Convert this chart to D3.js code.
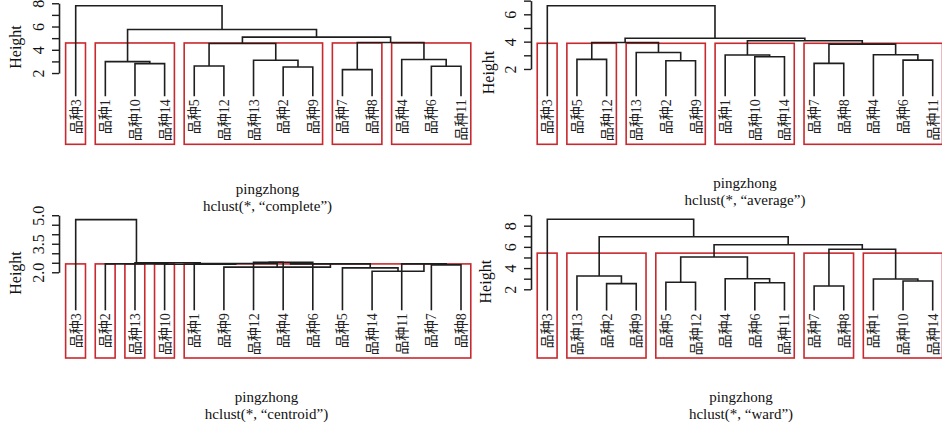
<!DOCTYPE html>
<html>
<head>
<meta charset="utf-8">
<script src="https://cdn.jsdelivr.net/npm/d3@7"></script>
<style>
    body { margin: 0; background: #fff; }
    svg { display: block; }
    text { font-family: "Liberation Serif", "Times New Roman", serif; fill: #111; }
    .leaf { font-family: "Liberation Serif", "Noto Sans CJK SC", serif; font-size: 14px; fill: #222; }
</style>
</head>
<body>
<div id="chart"></div>
<script>
// leaf labels, hclust leaf k = leafNames[k - 1]
const leafNames = ["品种1", "品种2", "品种3", "品种4", "品种5", "品种6", "品种7",
    "品种8", "品种9", "品种10", "品种11", "品种12", "品种13", "品种14"];

// merge tables like R's hclust: negative = leaf, positive = earlier merge (1-based)
const completeMerge = [[-7, -8], [-2, -9], [-6, -11], [-5, -12], [-10, -14], [-1, 5], [-13, 2],
    [-4, 3], [4, 7], [1, 8], [9, 10], [6, 11], [-3, 12]];
const completeHeight = [2.29, 2.52, 2.58, 2.61, 2.81, 2.98, 3.10, 3.16, 4.54, 4.63, 5.09, 5.75, 7.79];

const averageMerge = [[-7, -8], [-2, -9], [-6, -11], [-5, -12], [-10, -14], [-1, 5], [-4, 3],
    [-13, 2], [1, 7], [4, 8], [6, 9], [10, 11], [-3, 12]];
const averageHeight = [2.41, 2.60, 2.65, 2.70, 2.89, 3.02, 3.04, 3.21, 3.82, 3.94, 4.06, 4.25, 6.63];

const centroidMerge = [[-7, -8], [-11, 1], [-14, 2], [-5, 3], [-12, -4], [5, -6], [6, 4],
    [-9, 7], [-1, 8], [-10, 9], [-13, 10], [-2, 11], [-3, 12]];
const centroidHeight = [2.39, 2.44, 2.05, 2.23, 2.53, 2.53, 2.44, 2.27, 2.46, 2.42, 2.50, 2.44, 4.77];

const wardMerge = [[-7, -8], [-2, -9], [-6, -11], [-5, -12], [-10, -14], [-1, 5], [-4, 3],
    [-13, 2], [4, 7], [1, 6], [9, 10], [8, 11], [-3, 12]];
const wardHeight = [2.31, 2.53, 2.62, 2.66, 2.78, 2.97, 3.00, 3.25, 5.05, 5.77, 6.20, 6.96, 8.60];

// y axis ticks and the ones that get a label
const completeTicks = [2, 3, 4, 5, 6, 7, 8];
const completeLabels = [2, 4, 6, 8];
const averageTicks = [2, 3, 4, 5, 6, 7];
const averageLabels = [2, 4, 6];
const centroidTicks = [2, 2.5, 3, 3.5, 4, 4.5, 5];
const centroidLabels = [2, 3.5, 5];
const wardTicks = [2, 3, 4, 5, 6, 7, 8, 9];
const wardLabels = [2, 4, 6, 8];

const k = 5; // rect.hclust(k = 5)

const width = 942;
const height = 426;

const svg = d3.select("#chart")
    .append("svg")
    .attr("width", width)
    .attr("height", height);

const panels = [
    { method: "complete", merge: completeMerge, h: completeHeight, ticks: completeTicks, labels: completeLabels, fmt: d3.format("d"),
      x0: 75.7, x1: 461, yTop: 5.7, yZero: 96.3, bottom: 144.3, axisX: 59, ylab: [21, 47], title: [267.5, 194, 211] },
    { method: "average", merge: averageMerge, h: averageHeight, ticks: averageTicks, labels: averageLabels, fmt: d3.format("d"),
      x0: 547.3, x1: 932.7, yTop: 5.7, yZero: 96.3, bottom: 144.3, axisX: 531, ylab: [494, 72.5], title: [745, 188, 205] },
    { method: "centroid", merge: centroidMerge, h: centroidHeight, ticks: centroidTicks, labels: centroidLabels, fmt: d3.format(".1f"),
      x0: 75.7, x1: 461, yTop: 219.6, yZero: 310.3, bottom: 358, axisX: 59, ylab: [21, 273], title: [266.5, 402, 419] },
    { method: "ward", merge: wardMerge, h: wardHeight, ticks: wardTicks, labels: wardLabels, fmt: d3.format("d"),
      x0: 547.3, x1: 932.7, yTop: 219.3, yZero: 310.5, bottom: 358, axisX: 531, ylab: [491, 281.7], title: [741, 402, 419] }
];

panels.forEach(drawPanel);

function drawPanel(p) {
    const n = p.merge.length;
    const g = svg.append("g");

    // leaf order from the last merge down
    function members(j) {
        if (j < 0) return [-j];
        const m = p.merge[j - 1];
        return members(m[0]).concat(members(m[1]));
    }
    const order = members(n);
    const rank = new Map(order.map((leaf, i) => [leaf, i]));

    const x = d3.scaleLinear().domain([0, order.length - 1]).range([p.x0, p.x1]);
    const y = d3.scaleLinear().domain([0, d3.max(p.h)]).range([p.yZero, p.yTop]);

    // node position (in leaf units) and height
    const pos = j => j < 0 ? rank.get(-j) : (pos(p.merge[j - 1][0]) + pos(p.merge[j - 1][1])) / 2;
    const hgt = j => j < 0 ? 0 : p.h[j - 1];

    // red boxes for k clusters
    let clusters = [n];
    while (clusters.length < k) {
        const top = d3.max(clusters);
        clusters = clusters.filter(c => c !== top).concat(p.merge[top - 1]);
    }
    const cutH = (p.h[n - k] + p.h[n - k + 1]) / 2;
    const boxes = clusters.map(c => {
        const idx = members(c).map(l => rank.get(l));
        return { lo: d3.min(idx), hi: d3.max(idx) };
    });

    g.selectAll(".box")
        .data(boxes)
        .enter()
        .append("rect")
        .attr("class", "box")
        .attr("x", d => x(d.lo - 0.34))
        .attr("width", d => x(d.hi + 0.33) - x(d.lo - 0.34))
        .attr("y", y(cutH))
        .attr("height", p.bottom - y(cutH))
        .attr("fill", "none")
        .attr("stroke", "#c8282e")
        .attr("stroke-width", 1.6);

    // dendrogram segments
    g.selectAll(".link")
        .data(d3.range(1, n + 1))
        .enter()
        .append("path")
        .attr("class", "link")
        .attr("fill", "none")
        .attr("stroke", "#1e1e1e")
        .attr("stroke-width", 1.6)
        .attr("d", j => {
            const [a, b] = p.merge[j - 1];
            return `M${x(pos(a))},${y(hgt(a))}V${y(p.h[j - 1])}H${x(pos(b))}V${y(hgt(b))}`;
        });

    // leaf labels
    g.selectAll(".leaf")
        .data(order)
        .enter()
        .append("text")
        .attr("class", "leaf")
        .attr("transform", d => `translate(${x(rank.get(d)) + 5},${p.yZero + 3}) rotate(-90)`)
        .attr("text-anchor", "end")
        .text(d => leafNames[d - 1]);

    // y axis
    const axisScale = y.copy().domain(d3.extent(p.ticks)).range(d3.extent(p.ticks).map(y));
    const axis = g.append("g")
        .attr("transform", `translate(${p.axisX},0)`)
        .call(d3.axisLeft(axisScale)
            .tickValues(p.ticks)
            .tickSize(7)
            .tickSizeOuter(0)
            .tickFormat(d => p.labels.includes(d) ? p.fmt(d) : ""));

    axis.select(".domain").attr("stroke", "#1e1e1e").attr("stroke-width", 1.6);
    axis.selectAll(".tick line").attr("stroke", "#1e1e1e").attr("stroke-width", 1.4);
    axis.selectAll(".tick text")
        .attr("x", null)
        .attr("dy", null)
        .attr("transform", "translate(-15,0) rotate(-90)")
        .attr("text-anchor", "middle")
        .style("font-size", "16px")
        .style("font-family", "\"Liberation Serif\", serif")
        .attr("fill", "#111");

    g.append("text")
        .attr("transform", `translate(${p.ylab[0]},${p.ylab[1]}) rotate(-90)`)
        .attr("text-anchor", "middle")
        .style("font-size", "16px")
        .text("Height");

    g.append("text")
        .attr("x", p.title[0])
        .attr("y", p.title[1])
        .attr("text-anchor", "middle")
        .style("font-size", "15px")
        .text("pingzhong");

    g.append("text")
        .attr("x", p.title[0])
        .attr("y", p.title[2])
        .attr("text-anchor", "middle")
        .style("font-size", "15px")
        .text(`hclust(*, “${p.method}”)`);
}
</script>
</body>
</html>
